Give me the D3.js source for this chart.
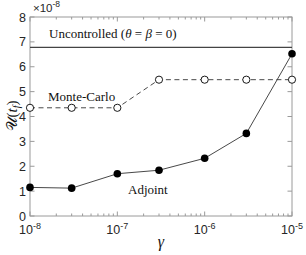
<!DOCTYPE html>
<html><head><meta charset="utf-8">
<script src="https://cdn.jsdelivr.net/npm/d3@7"></script>
<style>body{margin:0;background:#fff}
.serif{font-family:"Liberation Serif","Times New Roman",serif}
.dserif{font-family:"DejaVu Serif",serif}
.sans{font-family:"Liberation Sans",Arial,sans-serif}
</style>
</head><body><svg id="c" width="306" height="255"></svg>
<script>
const gammas = [1e-8, 3e-8, 1e-7, 3e-7, 1e-6, 3e-6, 1e-5];
const adjoint = [1.15, 1.12, 1.70, 1.84, 2.32, 3.32, 6.52];
const monteCarlo = [4.35, 4.35, 4.35, 5.48, 5.48, 5.48, 5.48];
const uncontrolled = 6.78;
const xTicks = [1e-8, 1e-7, 1e-6, 1e-5];
const xTickExp = ["-8", "-7", "-6", "-5"];
const yTicks = [0, 1, 2, 3, 4, 5, 6, 7, 8];

const svg = d3.select("#c");
const L = 30, R = 292, T = 17, B = 216;
const x = d3.scaleLog().domain([1e-8, 1e-5]).range([L, R]);
const y = d3.scaleLinear().domain([0, 8]).range([B, T]);
const axisCol = "#9a9a9a", txtCol = "#262626";

const minor = [];
for (let e = -8; e < -5; e++) for (let m = 2; m <= 9; m++) minor.push(m * Math.pow(10, e));
const g = svg.append("g");
minor.forEach(v => {
  g.append("line").attr("x1", x(v)).attr("x2", x(v)).attr("y1", B).attr("y2", B - 2.5).attr("stroke", axisCol);
  g.append("line").attr("x1", x(v)).attr("x2", x(v)).attr("y1", T).attr("y2", T + 2.5).attr("stroke", axisCol);
});
xTicks.forEach(v => {
  g.append("line").attr("x1", x(v)).attr("x2", x(v)).attr("y1", B).attr("y2", B - 4.5).attr("stroke", axisCol);
  g.append("line").attr("x1", x(v)).attr("x2", x(v)).attr("y1", T).attr("y2", T + 4.5).attr("stroke", axisCol);
});
yTicks.forEach(v => {
  g.append("line").attr("x1", L).attr("x2", L + 4.5).attr("y1", y(v)).attr("y2", y(v)).attr("stroke", axisCol);
  g.append("line").attr("x1", R).attr("x2", R - 4.5).attr("y1", y(v)).attr("y2", y(v)).attr("stroke", axisCol);
});
g.append("rect").attr("x", L).attr("y", T).attr("width", R - L).attr("height", B - T)
  .attr("fill", "none").attr("stroke", axisCol).attr("stroke-width", 1);

yTicks.forEach(v => {
  svg.append("text").attr("class", "sans").attr("x", L - 4).attr("y", y(v) + 4.5).attr("text-anchor", "end")
    .attr("font-size", 12.5).attr("fill", txtCol).text(v);
});
xTicks.forEach((v, i) => {
  const t = svg.append("text").attr("class", "sans").attr("x", x(v)).attr("y", 234).attr("text-anchor", "middle")
    .attr("font-size", 12.5).attr("fill", txtCol);
  t.append("tspan").text("10");
  t.append("tspan").attr("dy", -5).attr("font-size", 9).text(xTickExp[i]);
});
const ex = svg.append("text").attr("class", "sans").attr("x", 33).attr("y", 12)
  .attr("font-size", 11.5).attr("fill", txtCol);
ex.append("tspan").text("\u00d710");
ex.append("tspan").attr("dy", -5).attr("font-size", 8.5).text("-8");

svg.append("line").attr("x1", L).attr("x2", R).attr("y1", y(uncontrolled)).attr("y2", y(uncontrolled))
  .attr("stroke", "#444").attr("stroke-width", 1.2);

const line = d3.line().x((d, i) => x(gammas[i])).y(d => y(d));
svg.append("path").datum(monteCarlo).attr("d", line).attr("fill", "none")
  .attr("stroke", "#333").attr("stroke-width", 0.9).attr("stroke-dasharray", "5,3.5");
svg.append("path").datum(adjoint).attr("d", line).attr("fill", "none")
  .attr("stroke", "#333").attr("stroke-width", 0.9);

svg.selectAll(".mc").data(monteCarlo).enter().append("circle")
  .attr("cx", (d, i) => x(gammas[i])).attr("cy", d => y(d)).attr("r", 3.6)
  .attr("fill", "#fff").attr("stroke", "#000").attr("stroke-width", 0.9);
svg.selectAll(".ad").data(adjoint).enter().append("circle")
  .attr("cx", (d, i) => x(gammas[i])).attr("cy", d => y(d)).attr("r", 3.8)
  .attr("fill", "#000");

const u = svg.append("text").attr("class", "serif").attr("x", 49).attr("y", 38).attr("font-size", 13)
  .attr("fill", "#111");
u.append("tspan").text("Uncontrolled (");
u.append("tspan").attr("font-style", "italic").text("θ");
u.append("tspan").text(" = ");
u.append("tspan").attr("font-style", "italic").text("β");
u.append("tspan").text(" = 0)");
svg.append("text").attr("class", "serif").attr("x", 48).attr("y", 101).attr("font-size", 13)
  .attr("fill", "#111").text("Monte-Carlo");
svg.append("text").attr("class", "serif").attr("x", 128).attr("y", 194).attr("font-size", 13)
  .attr("fill", "#111").text("Adjoint");

svg.append("text").attr("class", "serif").attr("x", 161).attr("y", 247).attr("text-anchor", "middle")
  .attr("font-style", "italic").attr("font-size", 16).attr("fill", "#111").text("γ");
const yl = svg.append("text").attr("class", "serif").attr("transform", "translate(17,116) rotate(-90)")
  .attr("text-anchor", "middle").attr("font-size", 15).attr("fill", "#111");
yl.append("tspan").attr("class", "dserif").text("\uD835\uDCB0");
yl.append("tspan").text("(");
yl.append("tspan").attr("font-style", "italic").text("t");
yl.append("tspan").attr("font-style", "italic").attr("font-size", 10).attr("dy", 3).text("f");
yl.append("tspan").attr("dy", -3).text(")");
</script></body></html>
